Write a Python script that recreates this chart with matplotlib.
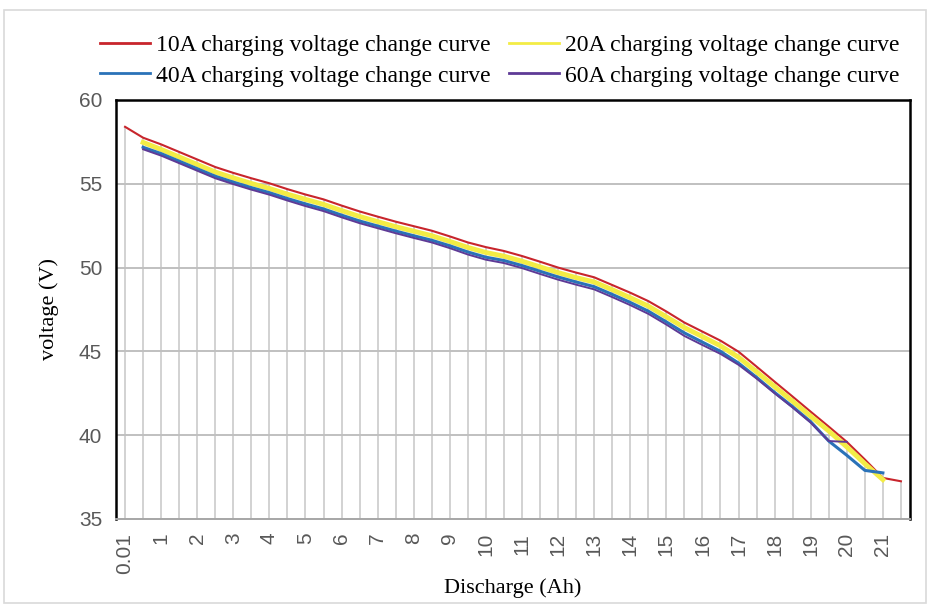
import matplotlib.pyplot as plt
import numpy as np
from matplotlib.patches import Rectangle

# Discharge capacity (Ah) at each sample point
discharge = [0.01, 0.5, 1, 1.5, 2, 2.5, 3, 3.5, 4, 4.5, 5, 5.5, 6, 6.5, 7, 7.5,
             8, 8.5, 9, 9.5, 10, 10.5, 11, 11.5, 12, 12.5, 13, 13.5, 14, 14.5,
             15, 15.5, 16, 16.5, 17, 17.5, 18, 18.5, 19, 19.5, 20, 20.5, 21, 21.5]

# Voltage readings (V); None where a run has no sample
v_10a = [58.4, 57.75, 57.35, 56.9, 56.45, 56.0, 55.65, 55.33, 55.03, 54.68,
         54.36, 54.07, 53.7, 53.35, 53.04, 52.74, 52.47, 52.2, 51.86, 51.5,
         51.22, 50.99, 50.69, 50.35, 50.0, 49.7, 49.42, 48.96, 48.5, 48.0,
         47.38, 46.72, 46.18, 45.64, 44.98, 44.09, 43.19, 42.3, 41.4, 40.51,
         39.6, 38.55, 37.45, 37.25]
v_20a = [None, 57.47, 57.05, 56.6, 56.15, 55.7, 55.35, 55.02, 54.72, 54.38,
         54.07, 53.77, 53.4, 53.05, 52.74, 52.44, 52.17, 51.9, 51.56, 51.2,
         50.9, 50.68, 50.38, 50.04, 49.7, 49.4, 49.14, 48.68, 48.2, 47.7,
         47.06, 46.42, 45.88, 45.33, 44.65, 43.78, 42.9, 42.02, 41.13, 40.25,
         39.3, 38.3, 37.35, None]
v_40a = [None, 57.18, 56.8, 56.35, 55.9, 55.45, 55.1, 54.77, 54.47, 54.12,
         53.8, 53.5, 53.13, 52.78, 52.48, 52.18, 51.9, 51.63, 51.3, 50.93,
         50.62, 50.42, 50.12, 49.78, 49.44, 49.14, 48.86, 48.4, 47.92, 47.4,
         46.76, 46.1, 45.55, 45.0, 44.3, 43.45, 42.55, 41.7, 40.8, 39.65,
         38.8, 37.9, 37.75, None]
v_60a = [None, 57.06, 56.68, 56.23, 55.78, 55.33, 54.98, 54.65, 54.35, 54.0,
         53.67, 53.37, 53.0, 52.65, 52.35, 52.05, 51.77, 51.5, 51.16, 50.78,
         50.47, 50.27, 49.97, 49.62, 49.28, 48.98, 48.7, 48.24, 47.76, 47.24,
         46.6, 45.92, 45.38, 44.85, 44.2, 43.38, 42.5, 41.65, 40.75, 39.65,
         39.6, None, None, None]

labels = ['10A charging voltage change curve', '20A charging voltage change curve',
          '40A charging voltage change curve', '60A charging voltage change curve']
colors = ['#c8252c', '#f3ec45', '#2a72b8', '#5e3a96']
widths = [1.5, 3.5, 2.2, 1.4]


def to_array(vals):
    return np.array([np.nan if v is None else v for v in vals], dtype=float)


fig = plt.figure(figsize=(9.29, 6.06), dpi=100)
ax = fig.add_axes([0.1249, 0.1436, 0.8546, 0.6914])

x = np.arange(len(discharge))
series = [to_array(v) for v in (v_10a, v_20a, v_40a, v_60a)]

# drop lines from the highest curve down to the axis
top = np.nanmax(np.vstack(series), axis=0)
ax.vlines(x, 35, top, color='#c6c6c6', lw=1.1, zorder=1)

for yv in [40, 45, 50, 55]:
    ax.axhline(yv, color='#c0c0c0', lw=1.4, zorder=1)

handles = []
for vals, lab, col, lw in zip(series, labels, colors, widths):
    h, = ax.plot(x, vals, color=col, lw=lw, label=lab, zorder=3)
    handles.append(h)

ax.set_xlim(-0.5, len(discharge) - 0.5)
ax.set_ylim(35, 60)
ax.set_yticks([35, 40, 45, 50, 55, 60])

tick_idx = x[::2]
tick_lab = ['0.01'] + [str(int(discharge[i])) for i in tick_idx[1:]]
ax.set_xticks(tick_idx)
ax.set_xticklabels(tick_lab, rotation=90)

ax.tick_params(axis='both', length=0, labelsize=15, labelcolor='#595959',
               labelfontfamily='Liberation Sans')
ax.tick_params(axis='y', pad=10)
ax.tick_params(axis='x', pad=10)

for side in ['top', 'left', 'right']:
    ax.spines[side].set_linewidth(1.8)
    ax.spines[side].set_color('black')
ax.spines['bottom'].set_color('#a6a6a6')
ax.spines['bottom'].set_linewidth(1.4)

ax.set_ylabel('voltage (V)', family='Liberation Serif', fontsize=16, labelpad=14)
ax.set_xlabel('Discharge (Ah)', family='Liberation Serif', fontsize=16, labelpad=3)

# legend: two rows, 10A/20A on top, 40A/60A below
order = [0, 2, 1, 3]
leg = fig.legend([handles[i] for i in order], [labels[i] for i in order],
                 ncol=2, loc='upper center', bbox_to_anchor=(0.538, 0.978),
                 frameon=False, prop={'family': 'Liberation Serif', 'size': 17},
                 handlelength=2.1, handletextpad=0.25, columnspacing=0.8,
                 labelspacing=0.38)
for line in leg.get_lines():
    line.set_linewidth(2.0)

# light outer frame of the chart area
fig.patches.append(Rectangle((0.004, 0.005), 0.993, 0.978, transform=fig.transFigure,
                             fill=False, edgecolor='#d9d9d9', lw=1.2))

fig.savefig('out.png', dpi=100)
